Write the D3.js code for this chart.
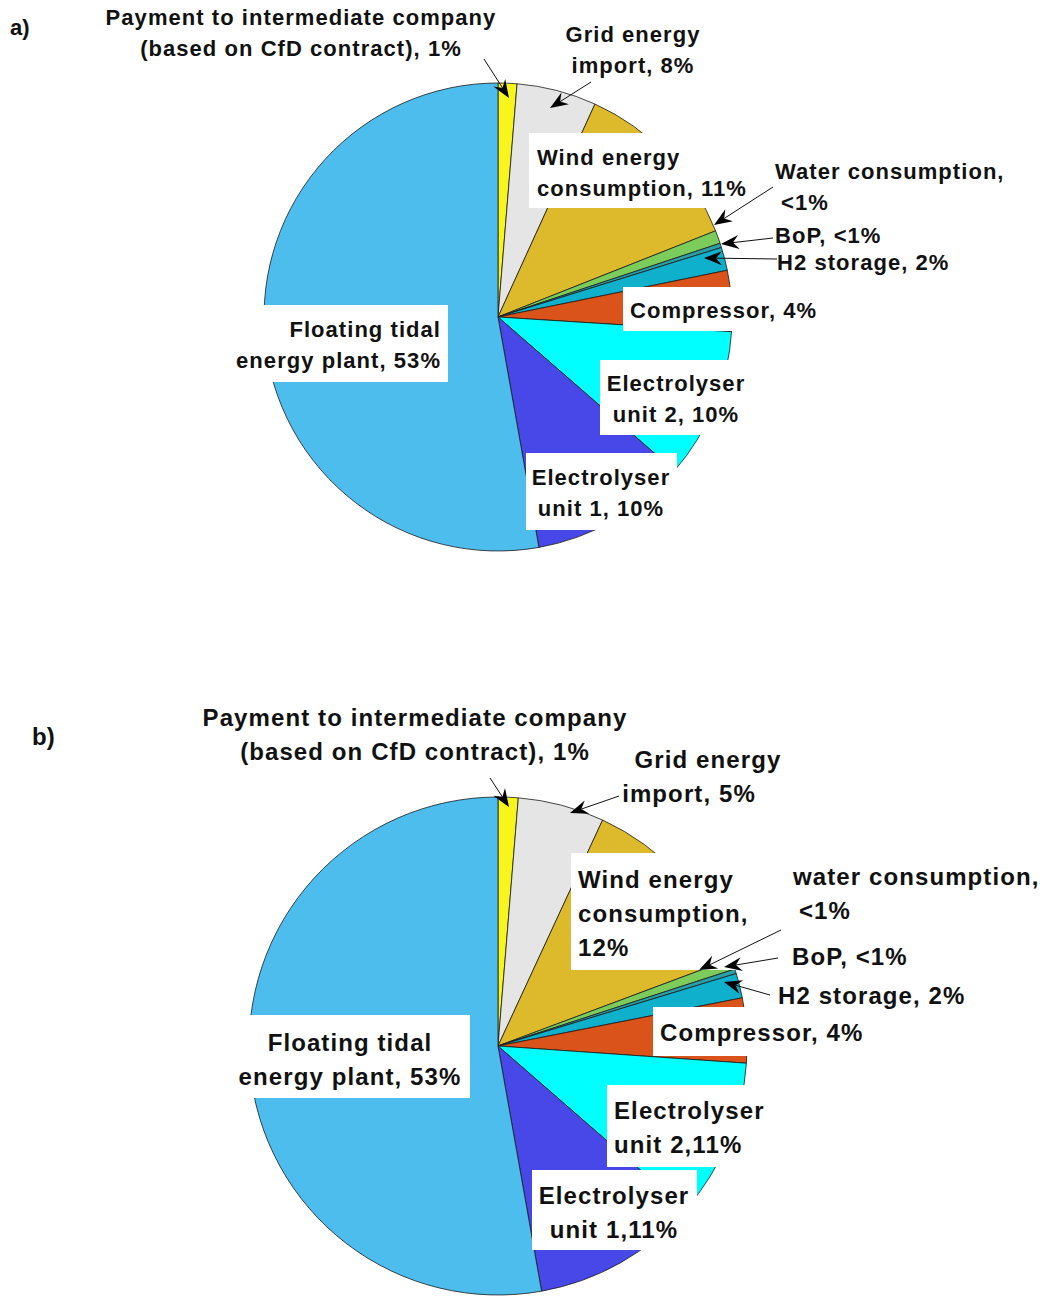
<!DOCTYPE html>
<html>
<head>
<meta charset="utf-8">
<script src="https://cdn.jsdelivr.net/npm/d3@7"></script>
<style>
  html, body { margin: 0; padding: 0; background: #fff; }
  svg { display: block; }
  text { font-family: "Liberation Sans", Arial, Helvetica, sans-serif; font-weight: bold; fill: #111; }
</style>
</head>
<body>
<svg id="chart" width="1045" height="1296"></svg>
<script>
// ---- Data ----
const categories = [
  "Payment to intermediate company (based on CfD contract)",
  "Grid energy import",
  "Wind energy consumption",
  "Water consumption",
  "BoP",
  "H2 storage",
  "Compressor",
  "Electrolyser unit 2",
  "Electrolyser unit 1",
  "Floating tidal energy plant"
];
// slice shares (%) as drawn in the picture
const valuesA = [1.3, 5.5, 12.2, 0.9, 0.3, 1.6, 4.2, 10.4, 10.8, 52.8];
const valuesB = [1.3, 5.6, 12.4, 0.7, 0.3, 1.6, 4.2, 10.3, 10.8, 52.8];
// label texts (as printed on the chart)
const labelsA = [
  ["Payment to intermediate company", "(based on CfD contract), 1%"],
  ["Grid energy", "import, 8%"],
  ["Wind energy", "consumption, 11%"],
  ["Water consumption,", "<1%"],
  ["BoP, <1%"],
  ["H2 storage, 2%"],
  ["Compressor, 4%"],
  ["Electrolyser", "unit 2, 10%"],
  ["Electrolyser", "unit 1, 10%"],
  ["Floating tidal", "energy plant, 53%"]
];
const labelsB = [
  ["Payment to intermediate company", "(based on CfD contract), 1%"],
  ["Grid energy", "import, 5%"],
  ["Wind energy", "consumption,", "12%"],
  ["water consumption,", "<1%"],
  ["BoP, <1%"],
  ["H2 storage, 2%"],
  ["Compressor, 4%"],
  ["Electrolyser", "unit 2,11%"],
  ["Electrolyser", "unit 1,11%"],
  ["Floating tidal", "energy plant, 53%"]
];
const panelTitles = ["a)", "b)"];
const colors = ["#f7f51c", "#e5e5e5", "#dcba2c", "#7ccc5c", "#2a9fa5", "#0fb0cc",
                "#d9531a", "#00ffff", "#4848e8", "#4dbdee"];

// ---- Layout (positions / styling) ----
const layoutA = {
  cx: 498, cy: 317, r: 234, font: 22, ls: 1.05, lh: 31,
  title: { x: 10, y: 35 },
  labels: [
    { x: 301, y: 25, anchor: "middle", arrow: [484, 59, 509, 98] },
    { x: 633, y: 42, anchor: "middle", arrow: [591, 82, 550, 108] },
    { x: 537, y: 165, anchor: "start", box: [529, 133, 752, 208] },
    { x: 775, y: 179, anchor: "start", dx2: 6, arrow: [773, 187, 714, 225] },
    { x: 775, y: 243, anchor: "start", arrow: [773, 238, 721, 244] },
    { x: 777, y: 270, anchor: "start", arrow: [777, 259, 704, 258] },
    { x: 630, y: 318, anchor: "start", box: [623, 287, 822, 331] },
    { x: 676, y: 391, anchor: "middle", box: [600, 360, 752, 435] },
    { x: 601, y: 485, anchor: "middle", box: [526, 453, 677, 530] },
    { x: 441, y: 337, anchor: "end", box: [229, 305, 448, 382] }
  ]
};
const layoutB = {
  cx: 498, cy: 1046, r: 249, font: 24, ls: 1.1, lh: 34,
  title: { x: 32, y: 745 },
  labels: [
    { x: 415, y: 726, anchor: "middle", arrow: [490, 778, 509, 807] },
    { x: 708, y: 768, anchor: "middle", dx2: -19, arrow: [619, 796, 570, 813] },
    { x: 578, y: 888, anchor: "start", box: [571, 853, 752, 970] },
    { x: 793, y: 885, anchor: "start", dx2: 6, arrow: [781, 930, 699, 970] },
    { x: 792, y: 965, anchor: "start", arrow: [778, 958, 724, 967] },
    { x: 778, y: 1004, anchor: "start", arrow: [770, 995, 724, 982] },
    { x: 660, y: 1041, anchor: "start", box: [653, 1007, 870, 1056] },
    { x: 614, y: 1119, anchor: "start", box: [607, 1085, 772, 1167] },
    { x: 614, y: 1204, anchor: "middle", box: [532, 1170, 697, 1250] },
    { x: 350, y: 1051, anchor: "middle", box: [236, 1015, 470, 1098] }
  ]
};

const svg = d3.select("#chart");

function drawArrow(g, a) {
  const [x1, y1, x2, y2] = a;
  const dx = x2 - x1, dy = y2 - y1, len = Math.hypot(dx, dy);
  const ux = dx / len, uy = dy / len, nx = -uy, ny = ux;
  const L = 18, W = 7, N = 6;
  const bx = x2 - L * ux, by = y2 - L * uy;
  g.append("line")
    .attr("x1", x1).attr("y1", y1)
    .attr("x2", x2 - (L - N) * ux).attr("y2", y2 - (L - N) * uy)
    .attr("stroke", "#111").attr("stroke-width", 1);
  g.append("path")
    .attr("d", `M${x2},${y2}L${bx + W * nx},${by + W * ny}L${x2 - (L - N) * ux},${y2 - (L - N) * uy}L${bx - W * nx},${by - W * ny}Z`)
    .attr("fill", "#000");
}

function drawPanel(values, labels, layout, title) {
  const g = svg.append("g");
  const pie = d3.pie().sort(null).value(d => d)(values);
  const arc = d3.arc().innerRadius(0).outerRadius(layout.r);
  const pg = g.append("g").attr("transform", `translate(${layout.cx},${layout.cy})`);
  pg.selectAll("path").data(pie).join("path")
    .attr("d", arc)
    .attr("fill", (d, i) => colors[i])
    .attr("stroke", "#1a1a1a")
    .attr("stroke-width", 0.8)
    .attr("stroke-linejoin", "round");

  g.append("text").attr("x", layout.title.x).attr("y", layout.title.y)
    .attr("font-size", layout.font).text(title);

  layout.labels.forEach((L, i) => {
    if (L.box) {
      const [x0, y0, x1, y1] = L.box;
      g.append("rect").attr("x", x0).attr("y", y0)
        .attr("width", x1 - x0).attr("height", y1 - y0).attr("fill", "#fff");
    }
    const t = g.append("text")
      .attr("font-size", layout.font)
      .attr("letter-spacing", layout.ls)
      .attr("text-anchor", L.anchor);
    labels[i].forEach((line, k) => {
      t.append("tspan")
        .attr("x", L.x + (k > 0 && L.dx2 ? L.dx2 : 0))
        .attr("y", L.y + k * layout.lh)
        .text(line);
    });
    if (L.arrow) drawArrow(g, L.arrow);
  });
}

drawPanel(valuesA, labelsA, layoutA, panelTitles[0]);
drawPanel(valuesB, labelsB, layoutB, panelTitles[1]);
</script>
</body>
</html>
